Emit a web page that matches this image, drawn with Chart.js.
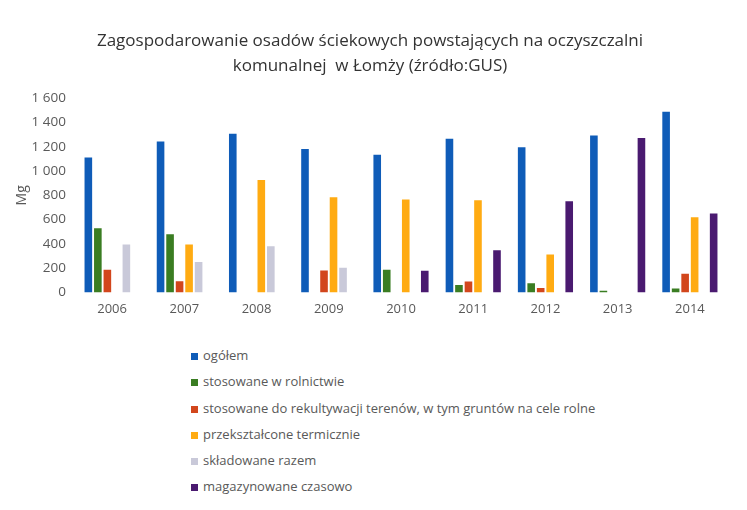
<!DOCTYPE html>
<html>
<head>
<meta charset="utf-8">
<script src="https://cdn.jsdelivr.net/npm/chart.js@4"></script>
<style>
  body { margin: 0; background: #fff; }
  #wrap { position: relative; width: 747px; height: 510px; }
  #box { position: absolute; left: 0; top: 0; width: 747px; height: 330px; }
  #legend { position: absolute; left: 191px; top: 346px; margin: 0; padding: 0; list-style: none;
            font-family: "Open Sans", sans-serif; font-size: 13px; color: #595959; }
  #legend li { height: 26.3px; line-height: 18px; }
  #legend span { display: inline-block; width: 7px; height: 7px; margin-right: 5px; vertical-align: 0px; }
</style>
</head>
<body>
<div id="wrap">
  <div id="box"><canvas id="chart"></canvas></div>
  <ul id="legend"></ul>
</div>
<script>
// lata
var years = ["2006", "2007", "2008", "2009", "2010", "2011", "2012", "2013", "2014"];

// serie (Mg), null = brak słupka
var ogolem = [1113, 1244, 1308, 1183, 1135, 1266, 1197, 1294, 1489];
var rolnictwo = [529, 479, null, null, 186, 61, 75, 14, 33];
var rekultywacja = [186, 92, null, 181, null, 89, 36, null, 153];
var termicznie = [null, 395, 927, 785, 765, 760, 312, null, 620];
var skladowane = [395, 250, 381, 203, null, null, null, null, null];
var magazynowane = [null, null, null, null, 178, 348, 751, 1272, 651];

var yTicks = [0, 200, 400, 600, 800, 1000, 1200, 1400, 1600];

var seriesNames = [
    "ogółem",
    "stosowane w rolnictwie",
    "stosowane do rekultywacji terenów, w tym gruntów na cele rolne",
    "przekształcone termicznie",
    "składowane razem",
    "magazynowane czasowo"
];
var seriesColors = ["#0f5cb8", "#3a7d22", "#d2461c", "#ffab12", "#c9c9d9", "#4a1a70"];
var seriesData = [ogolem, rolnictwo, rekultywacja, termicznie, skladowane, magazynowane];

var datasets = [];
for (var i = 0; i < seriesData.length; i++) {
    datasets.push({
        label: seriesNames[i],
        data: seriesData[i],
        backgroundColor: seriesColors[i],
        categoryPercentage: 0.79,
        barPercentage: 0.8
    });
}

var fontName = "'Open Sans', sans-serif";

window.onload = function() {
    var ctx = document.getElementById("chart").getContext("2d");
    window.theChart = new Chart(ctx, {
        type: 'bar',
        data: { labels: years, datasets: datasets },
        options: {
            responsive: true,
            maintainAspectRatio: false,
            animation: false,
            layout: { padding: { left: 14, right: 21, top: 0, bottom: 4 } },
            plugins: {
                legend: { display: false },
                tooltip: { enabled: false },
                title: {
                    display: true,
                    text: ["Zagospodarowanie osadów ściekowych powstających na oczyszczalni",
                           "komunalnej  w Łomży (źródło:GUS)"],
                    color: "#333",
                    font: { family: fontName, size: 17, weight: 'normal', lineHeight: 1.45 },
                    padding: { top: 29, bottom: 20 }
                }
            },
            scales: {
                x: {
                    grid: { display: false, drawTicks: false },
                    border: { display: false },
                    ticks: { color: "#595959", padding: 9, font: { family: fontName, size: 13 } }
                },
                y: {
                    min: 0,
                    max: 1600,
                    afterFit: function(scale) { scale.width = 62; },
                    afterBuildTicks: function(scale) {
                        scale.ticks = yTicks.map(function(v) { return { value: v }; });
                    },
                    grid: { display: false, drawTicks: false },
                    border: { display: false },
                    title: { display: true, text: "Mg", color: "#595959", padding: 0,
                             font: { family: fontName, size: 14 } },
                    ticks: {
                        color: "#595959",
                        padding: 10,
                        font: { family: fontName, size: 13.5 },
                        callback: function(v) { return String(v).replace(/\B(?=(\d{3})+(?!\d))/g, " "); }
                    }
                }
            }
        }
    });

    var legend = document.getElementById("legend");
    for (var i = 0; i < seriesNames.length; i++) {
        var li = document.createElement("li");
        var sw = document.createElement("span");
        sw.style.background = seriesColors[i];
        li.appendChild(sw);
        li.appendChild(document.createTextNode(seriesNames[i]));
        legend.appendChild(li);
    }
};
</script>
</body>
</html>
